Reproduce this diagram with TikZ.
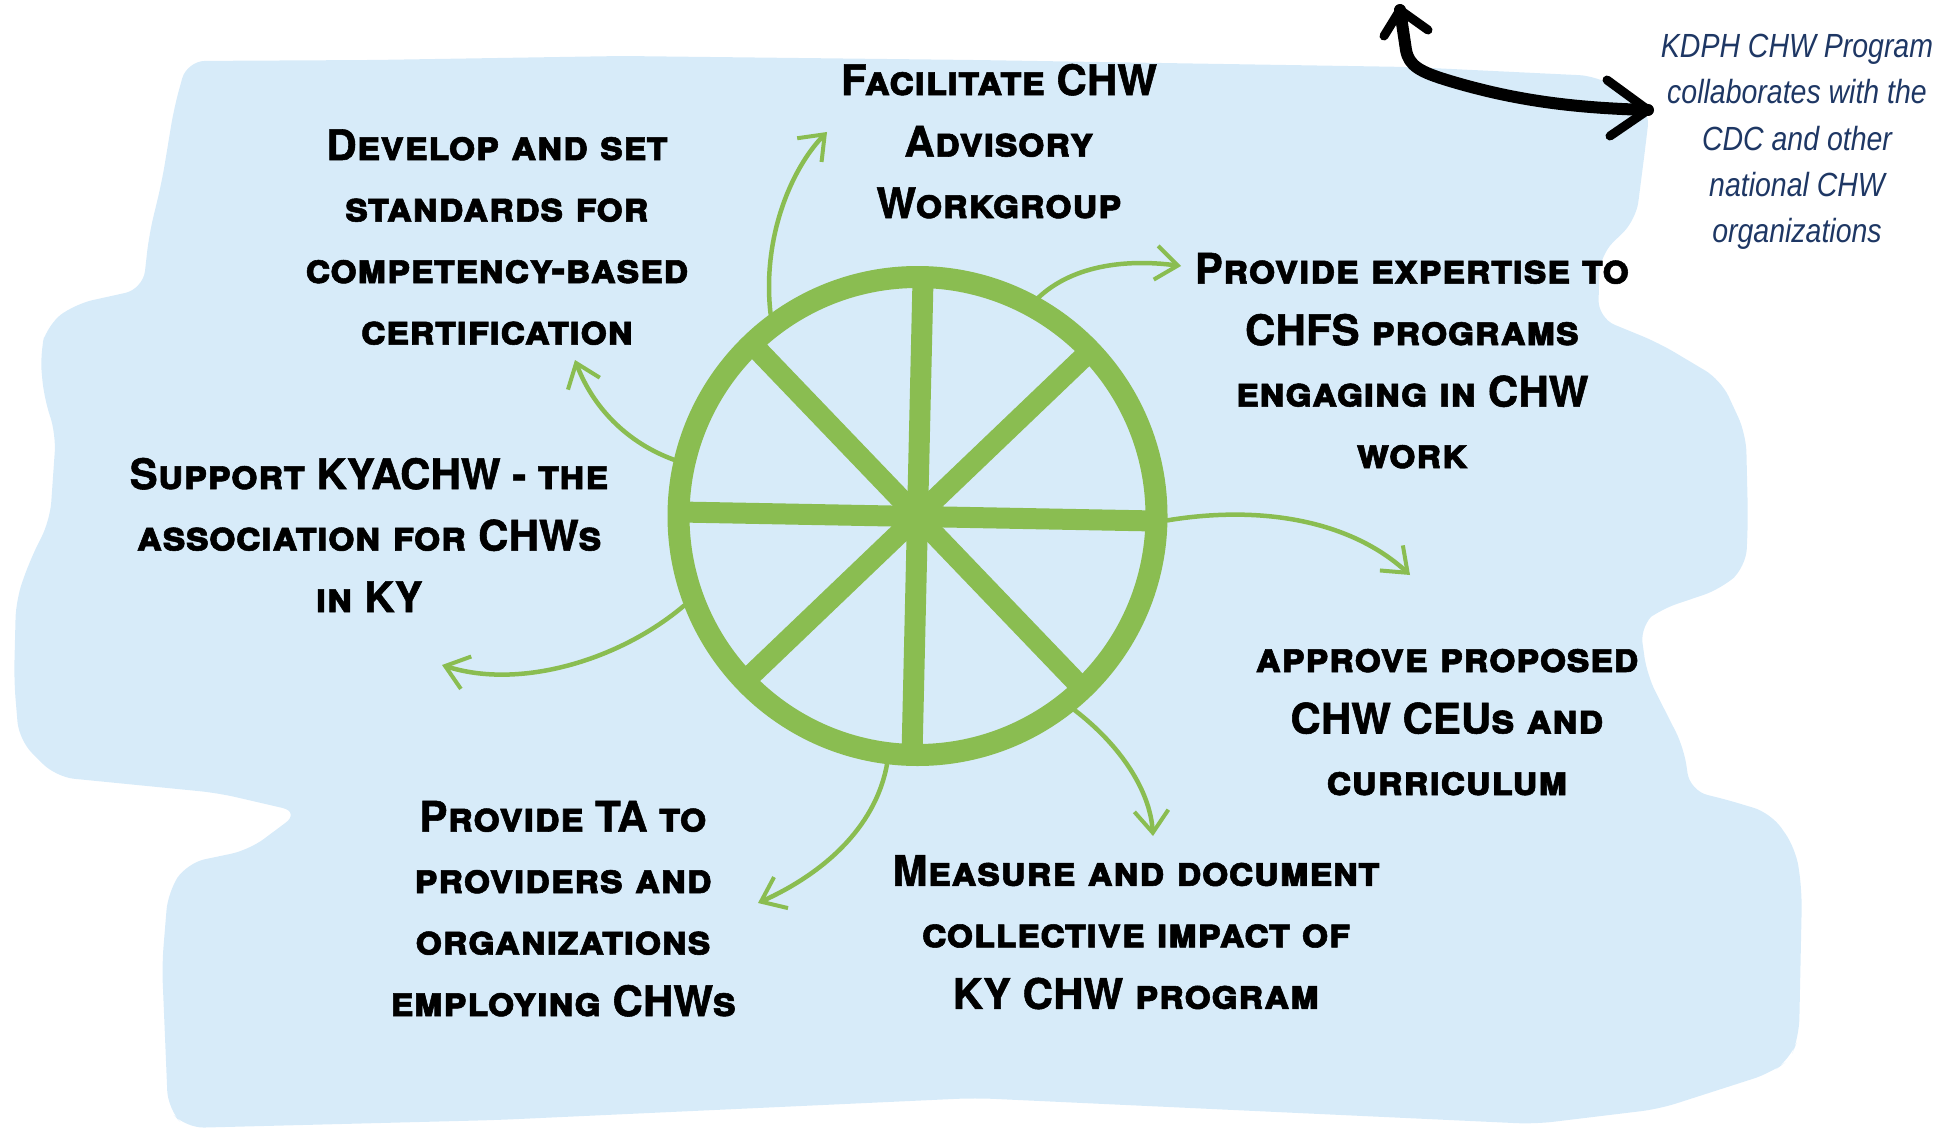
\documentclass[tikz,border=0pt]{standalone}
\usepackage{fontspec}
\setmainfont{TeX Gyre Heros}
\newfontfamily\handfont{TeX Gyre Heros}[UprightFont={* Bold}, Letters=SmallCaps, FakeBold=1.3]
\newfontfamily\navyfont{Liberation Sans}[FakeStretch=0.85]
\usetikzlibrary{arrows.meta}
\definecolor{bgblue}{RGB}{215,235,249}
\definecolor{wheelgreen}{RGB}{138,189,81}
\definecolor{navy}{RGB}{30,55,100}
\newcommand\hst{\rule[-24pt]{0pt}{48pt}}
\newcommand\nst{\rule[-18pt]{0pt}{36pt}}
\begin{document}
\begin{tikzpicture}[x=1pt,y=-1pt,
  hand/.style={align=center, inner sep=0pt, font=\handfont\fontsize{42}{61.5}\selectfont},
  note/.style={align=center, inner sep=0pt, text=navy, font=\navyfont\itshape\fontsize{33.5}{46.25}\selectfont},
  flow/.style={draw=wheelgreen, line width=4.5pt, line cap=round,
    -{Straight Barb[length=22pt,width=34pt,line width=4pt]}},
  spoke/.style={draw=wheelgreen, line width=21pt},
  bigarrow/.style={draw=black, line width=12pt, line cap=round, line join=round},
]
\useasboundingbox (0,0) rectangle (1949,1134);
% brush-stroke background
\fill[bgblue, rounded corners=18pt]
  (187,61) -- (373,60) -- (622,56) -- (975,60) -- (1410,67) -- (1597,76)
  -- (1650,108) -- (1645,150) -- (1636,220) -- (1600,255) -- (1598,318)
  -- (1659,343) -- (1721,380) -- (1746,434) -- (1748,520) -- (1746,567)
  -- (1721,589) -- (1659,610) -- (1640,625) -- (1647,675) -- (1684,748)
  -- (1690,791) -- (1721,798) -- (1771,813) -- (1796,849) -- (1802,892)
  -- (1799,1037) -- (1790,1059) -- (1771,1073) -- (1659,1109) -- (1535,1124)
  -- (975,1098) -- (497,1120) -- (186,1128) -- (168,1109) -- (162,965)
  -- (168,892) -- (187,863) -- (249,850) -- (300,812) -- (218,793)
  -- (56,777) -- (19,740) -- (14,680) -- (16,600) -- (30,560) -- (50,520)
  -- (56,434) -- (44,398) -- (40,354) -- (47,325) -- (75,304) -- (143,289)
  -- (149,235) -- (162,181) -- (174,108) -- cycle;

% wheel
\node[circle, draw=wheelgreen, line width=22pt, minimum size=478pt, inner sep=0pt] (wheel) at (917.5,516) {};
\coordinate (s1a) at (923,280);  \coordinate (s1b) at (912,755);
\coordinate (s2a) at (680,512);  \coordinate (s2b) at (1155,521);
\coordinate (s3a) at (753,345);  \coordinate (s3b) at (1082,688);
\coordinate (s4a) at (1089,352); \coordinate (s4b) at (746,680);
\draw[spoke] (s1a) -- (s1b);
\draw[spoke] (s2a) -- (s2b);
\draw[spoke] (s3a) -- (s3b);
\draw[spoke] (s4a) -- (s4b);

% texts
\node[hand] (facil) at (999,153) {\hst Facilitate CHW\\\hst Advisory\\\hst Workgroup};
\node[hand] (devel) at (497,249) {\hst Develop and set\\\hst standards for\\\hst competency-based\\\hst certification};
\node[hand] (exper) at (1412,372.5) {\hst Provide expertise to\\\hst CHFS programs\\\hst engaging in CHW\\\hst work};
\node[hand] (suppo) at (369,547) {\hst Support KYACHW - the\\\hst association for CHWs\\\hst in KY};
\node[hand] (appro) at (1447,733.5) {\hst approve proposed\\\hst CHW CEUs and\\\hst curriculum};
\node[hand] (prota) at (563,920.5) {\hst Provide TA to\\\hst providers and\\\hst organizations\\\hst employing CHWs};
\node[hand] (measu) at (1136,944) {\hst Measure and document\\\hst collective impact of\\\hst KY CHW program};
\node[note] (kdph) at (1797,147.5) {\nst KDPH CHW Program\\\nst collaborates with the\\\nst CDC and other\\\nst national CHW\\\nst organizations};

% green arrows from the wheel
\coordinate (t1) at (827,132);
\coordinate (t2) at (1181,266);
\coordinate (t3) at (1410,575);
\coordinate (t4) at (1153,836);
\coordinate (t5) at (758,903);
\coordinate (t6) at (442,665);
\coordinate (t7) at (575,360);
\draw[flow] (wheel.126.3) .. controls (762,240) and (790,170) .. (t1);
\draw[flow] (wheel.61.8) .. controls (1070,268) and (1120,258) .. (t2);
\draw[flow] (wheel.-1.6) .. controls (1260,505) and (1350,520) .. (t3);
\draw[flow] (wheel.-51.4) .. controls (1120,745) and (1150,790) .. (t4);
\draw[flow] (wheel.-97.2) .. controls (875,830) and (820,875) .. (t5);
\draw[flow] (wheel.201.4) .. controls (620,660) and (520,690) .. (t6);
\draw[flow] (wheel.167.4) .. controls (620,440) and (590,400) .. (t7);

% black double arrow
\coordinate (btop) at (1400,10);
\coordinate (bright) at (1648,110);
\draw[bigarrow] (btop) -- (1406,50) .. controls (1409,66) and (1420,72) .. (1450,81)
  .. controls (1520,102) and (1580,108) .. (bright);
\draw[bigarrow, line width=9pt] (1384,36) -- (btop) -- (1428,30);
\draw[bigarrow, line width=9pt] (1607,80) -- (bright) -- (1610,136);
\end{tikzpicture}
\end{document}
